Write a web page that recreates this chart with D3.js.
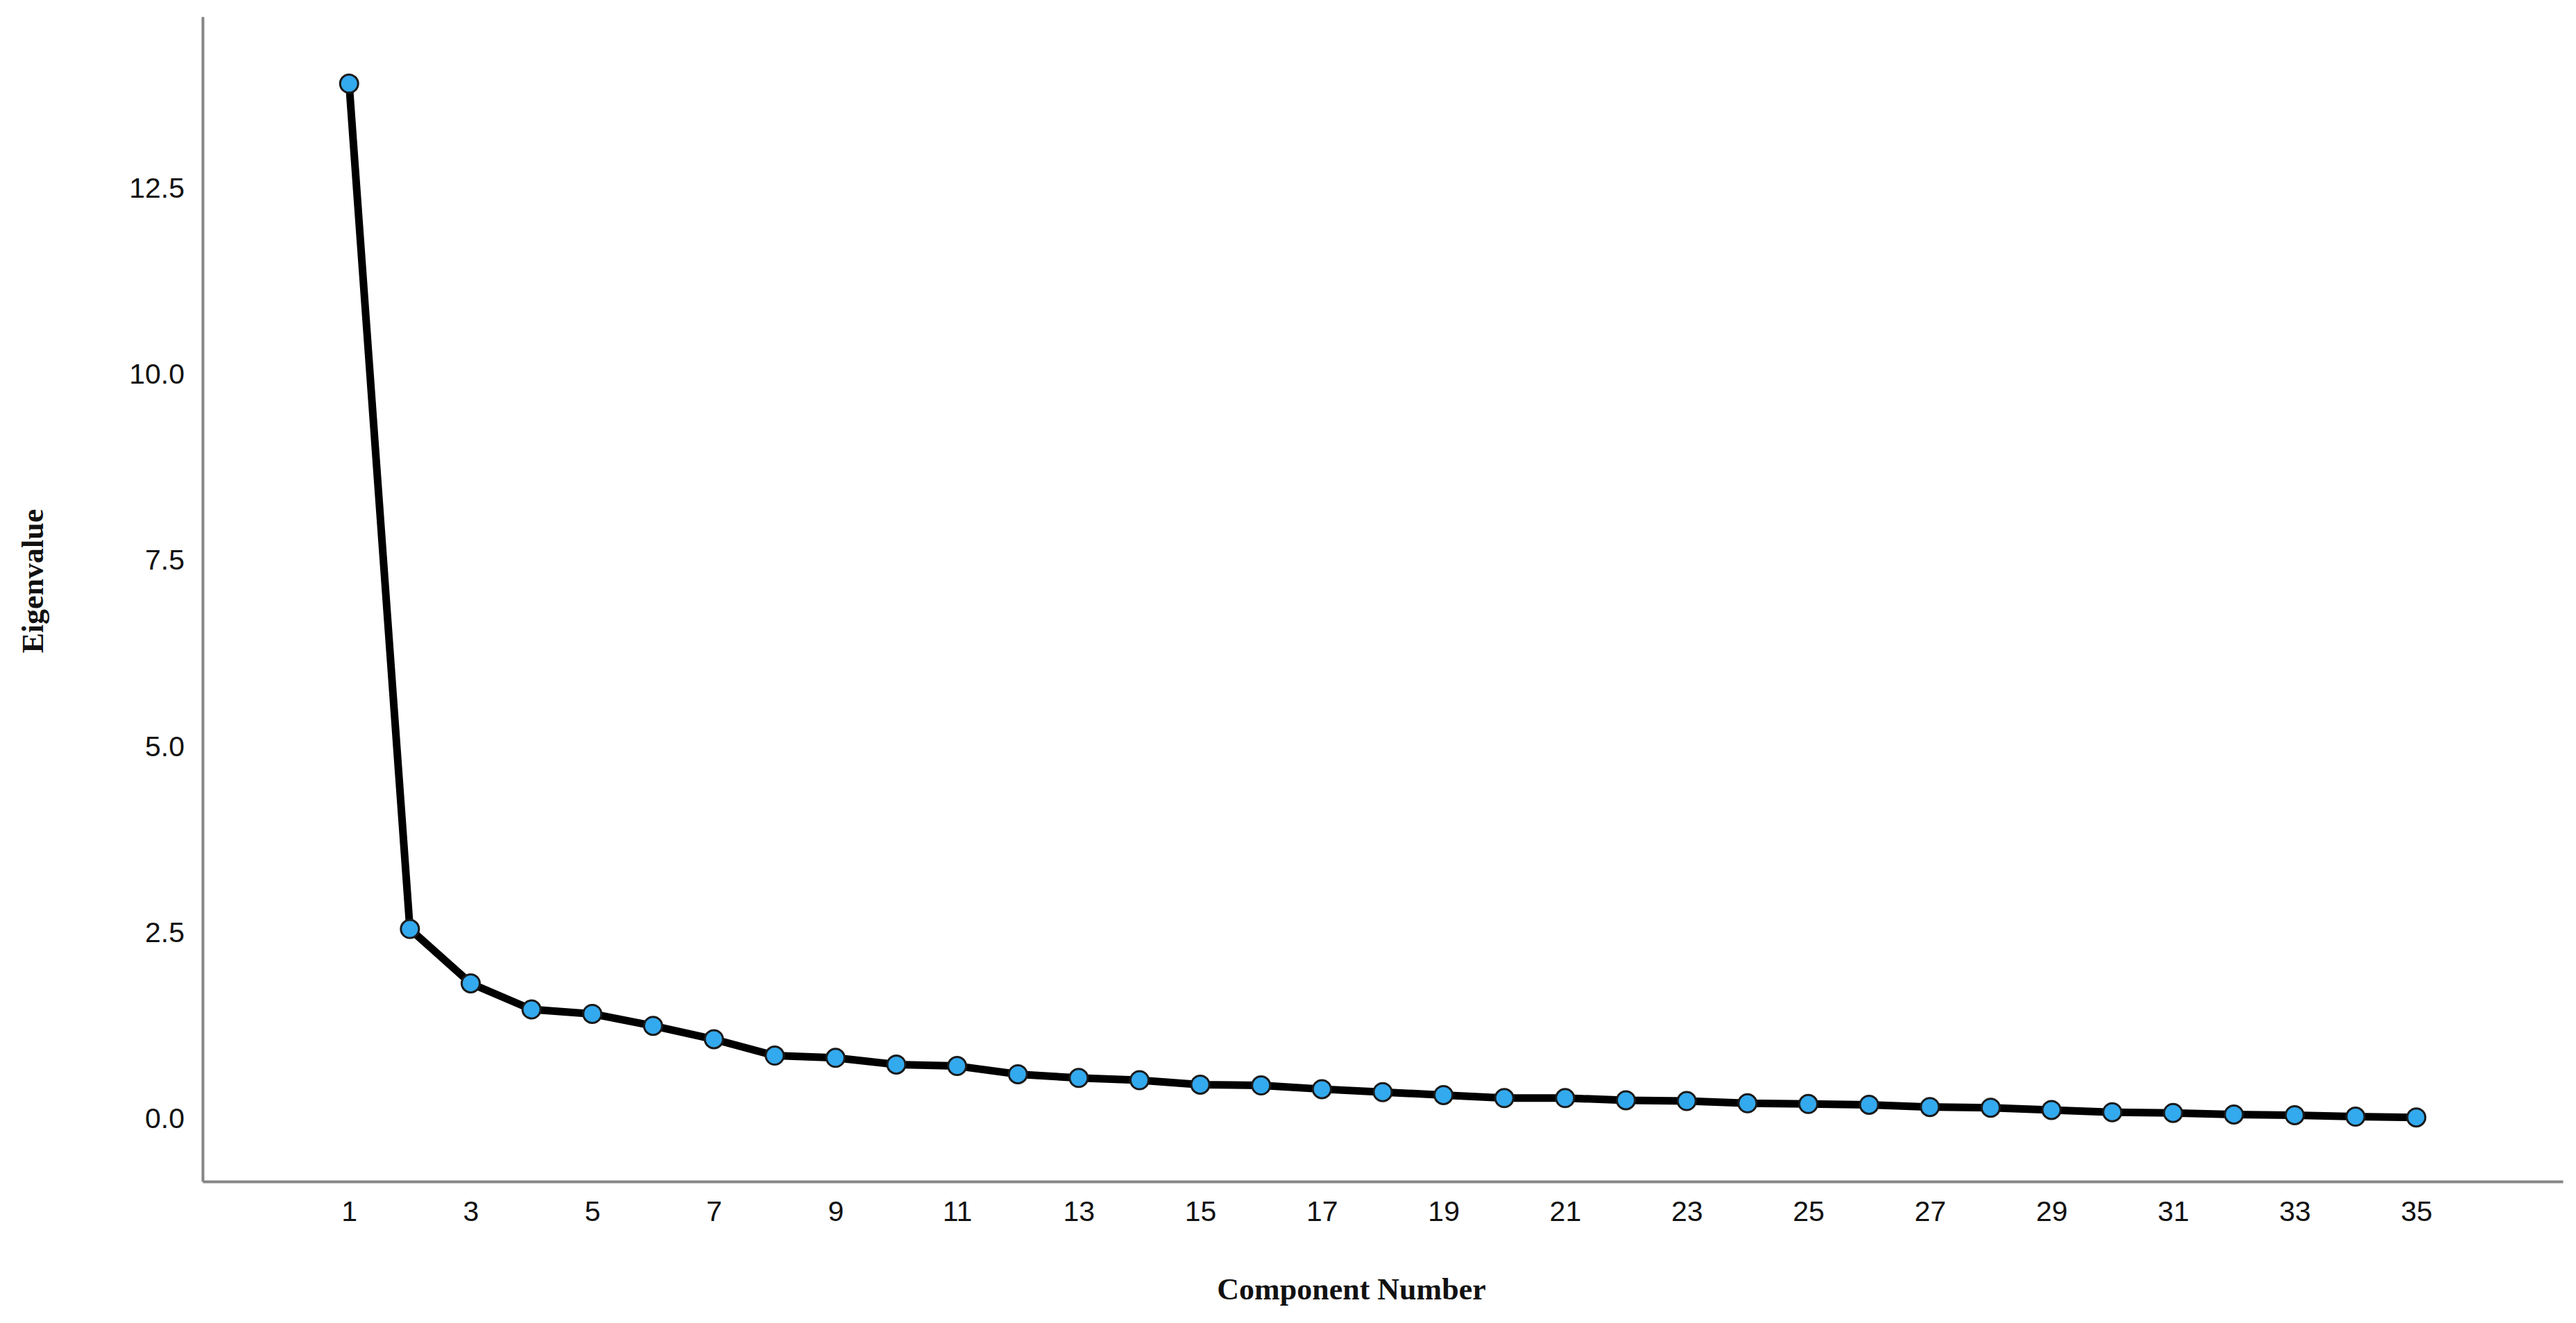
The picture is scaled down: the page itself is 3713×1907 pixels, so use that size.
<!DOCTYPE html>
<html>
<head>
<meta charset="utf-8">
<script src="https://cdn.jsdelivr.net/npm/d3@7"></script>
<style>
  html, body { margin: 0; padding: 0; background: #fff; }
</style>
</head>
<body>
<svg id="chart"></svg>
<script>
const components = d3.range(1, 36);
const eigenvalues = [
  13.9, 2.55, 1.82, 1.47, 1.41, 1.25, 1.07, 0.85, 0.82, 0.73,
  0.71, 0.60, 0.55, 0.52, 0.46, 0.45, 0.40, 0.36, 0.32, 0.28,
  0.28, 0.25, 0.24, 0.21, 0.20, 0.19, 0.16, 0.15, 0.12, 0.09,
  0.08, 0.06, 0.05, 0.03, 0.02
];
const xTicks = d3.range(1, 36, 2);
const yTicks = [0, 2.5, 5, 7.5, 10, 12.5];

const width = 3713;
const height = 1907;
const plotLeft = 292, plotRight = 3694, plotTop = 24, plotBottom = 1703;

const svg = d3.select("#chart")
  .attr("width", width)
  .attr("height", height)
  .style("font-family", "'Liberation Serif', 'DejaVu Serif', serif");

const x = d3.scaleLinear().domain([-1.41, 37.41]).range([plotLeft, plotRight]);
const y = d3.scaleLinear().domain([-0.84, 14.8]).range([plotBottom, plotTop]);

// axes
svg.append("g")
  .attr("transform", `translate(0,${plotBottom})`)
  .call(d3.axisBottom(x).tickValues(xTicks).tickSize(0).tickPadding(28).tickFormat(d3.format("d")))
  .call(g => g.select(".domain").attr("stroke", "#858585").attr("stroke-width", 4))
  .call(g => g.selectAll("text").attr("font-size", 41).attr("fill", "#111").attr("font-family", "inherit"));

svg.append("g")
  .attr("transform", `translate(${plotLeft},0)`)
  .call(d3.axisLeft(y).tickValues(yTicks).tickSize(0).tickPadding(26).tickFormat(d3.format(".1f")))
  .call(g => g.select(".domain").attr("stroke", "#858585").attr("stroke-width", 4))
  .call(g => g.selectAll("text").attr("font-size", 41).attr("fill", "#111").attr("font-family", "inherit"));

// axis titles
svg.append("text")
  .attr("x", (plotLeft + plotRight) / 2 - 45)
  .attr("y", 1873)
  .attr("text-anchor", "middle")
  .attr("font-size", 44)
  .attr("font-weight", "bold")
  .attr("fill", "#111")
  .text("Component Number");

svg.append("text")
  .attr("transform", `translate(62,${y(7.5) + 30}) rotate(-90)`)
  .attr("text-anchor", "middle")
  .attr("font-size", 44)
  .attr("font-weight", "bold")
  .attr("fill", "#111")
  .text("Eigenvalue");

// line
const line = d3.line()
  .x((d, i) => x(components[i]))
  .y(d => y(d));

svg.append("path")
  .datum(eigenvalues)
  .attr("fill", "none")
  .attr("stroke", "#000")
  .attr("stroke-width", 11)
  .attr("stroke-linejoin", "round")
  .attr("d", line);

svg.append("g")
  .selectAll("circle")
  .data(eigenvalues)
  .join("circle")
  .attr("cx", (d, i) => x(components[i]))
  .attr("cy", d => y(d))
  .attr("r", 13)
  .attr("fill", "#33a9ee")
  .attr("stroke", "#1a1a1a")
  .attr("stroke-width", 3);
</script>
</body>
</html>
